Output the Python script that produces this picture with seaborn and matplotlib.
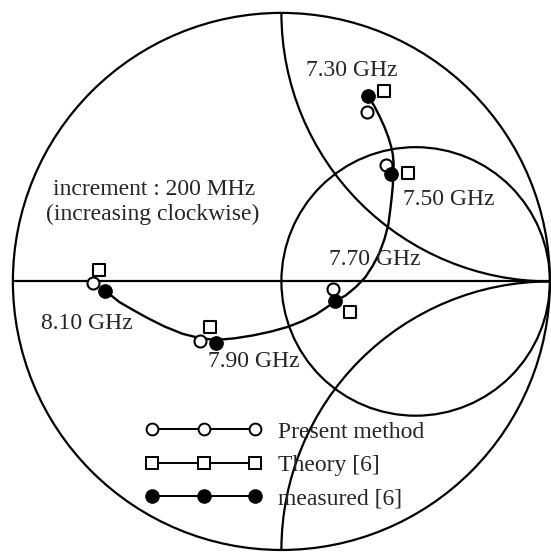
import numpy as np
import pandas as pd
import matplotlib
matplotlib.use("Agg")
import matplotlib.pyplot as plt
from matplotlib.patches import Circle, Arc
from matplotlib.lines import Line2D
import seaborn as sns

freqs = ["7.30 GHz", "7.50 GHz", "7.70 GHz", "7.90 GHz", "8.10 GHz"]

present_re = [0.320, 0.391, 0.192, -0.302, -0.702]
present_im = [0.632, 0.434, -0.027, -0.223, -0.006]

theory_re = [0.382, 0.473, 0.254, -0.266, -0.678]
theory_im = [0.708, 0.404, -0.114, -0.169, 0.041]

measured_re = [0.323, 0.407, 0.201, -0.245, -0.656]
measured_im = [0.689, 0.400, -0.074, -0.229, -0.035]

# locus of the measured impedance
curve_re = [0.323, 0.345, 0.365, 0.383, 0.398, 0.408, 0.415, 0.418, 0.417, 0.415,
            0.411, 0.405, 0.398, 0.384, 0.365, 0.340, 0.312, 0.278, 0.241, 0.201,
            0.165, 0.129, 0.078, 0.025, -0.040, -0.106, -0.175, -0.245, -0.308,
            -0.368, -0.435, -0.499, -0.553, -0.603, -0.656]
curve_im = [0.689, 0.655, 0.616, 0.577, 0.538, 0.505, 0.473, 0.437, 0.400, 0.358,
            0.315, 0.263, 0.211, 0.158, 0.106, 0.058, 0.015, -0.020, -0.051, -0.074,
            -0.099, -0.123, -0.148, -0.169, -0.187, -0.201, -0.212, -0.218, -0.210,
            -0.195, -0.168, -0.136, -0.106, -0.077, -0.035]

legend_labels = ["Present method", "Theory [6]", "measured [6]"]

sns.set_style("white")
plt.rcParams['font.family'] = ['Liberation Serif', 'DejaVu Serif']

fig = plt.figure(figsize=(5.51, 5.54), dpi=100)
ax = fig.add_axes([0, 0, 1, 1])
ax.set_xlim(-1.048, 1.004)
ax.set_ylim(-1.015, 1.048)
ax.axis('off')

lw = 1.6
# smith chart grid: outer circle, r = 1 circle, x = +-1 arcs, real axis
ax.add_patch(Circle((0, 0), 1, fill=False, color='black', lw=lw))
ax.add_patch(Circle((0.5, 0), 0.5, fill=False, color='black', lw=lw))
ax.add_patch(Arc((1, 1), 2, 2, theta1=180, theta2=270, color='black', lw=lw))
ax.add_patch(Arc((1, -1), 2, 2, theta1=90, theta2=180, color='black', lw=lw))
ax.plot([-1, 1], [0, 0], color='black', lw=lw)

sns.lineplot(x=curve_re, y=curve_im, sort=False, estimator=None, color='black',
             lw=1.7, solid_joinstyle='round', ax=ax)

sns.scatterplot(x=present_re, y=present_im, marker='o', s=75, facecolor='white',
                edgecolor='black', linewidth=1.5, ax=ax, zorder=3)
sns.scatterplot(x=theory_re, y=theory_im, marker='s', s=68, facecolor='white',
                edgecolor='black', linewidth=1.5, ax=ax, zorder=3)
sns.scatterplot(x=measured_re, y=measured_im, marker='o', s=95, color='black',
                edgecolor='black', linewidth=0.8, ax=ax, zorder=4)

fs = 17
label_pos = [(0.263, 0.787), (0.622, 0.305), (0.348, 0.080), (-0.104, -0.300), (-0.725, -0.155)]
for f, (x, y) in zip(freqs, label_pos):
    ax.text(x, y, f, fontsize=fs, ha='center', va='center')

ax.text(-0.476, 0.342, "increment : 200 MHz", fontsize=fs, ha='center', va='center')
ax.text(-0.479, 0.250, "(increasing clockwise)", fontsize=fs, ha='center', va='center')

handles = [
    Line2D([], [], color='black', lw=1.4, marker='o', ms=8.5, mfc='white', mec='black', mew=1.4),
    Line2D([], [], color='black', lw=1.4, marker='s', ms=8, mfc='white', mec='black', mew=1.4),
    Line2D([], [], color='black', lw=1.4, marker='o', ms=9.5, mfc='black', mec='black'),
]
ax.legend(handles, legend_labels, numpoints=3, frameon=False, fontsize=fs,
          loc='upper left', bbox_to_anchor=(0.263, 0.240), handlelength=4.98,
          handletextpad=0.66, labelspacing=0.5, borderpad=0, borderaxespad=0)

fig.savefig("out.png", dpi=100)
